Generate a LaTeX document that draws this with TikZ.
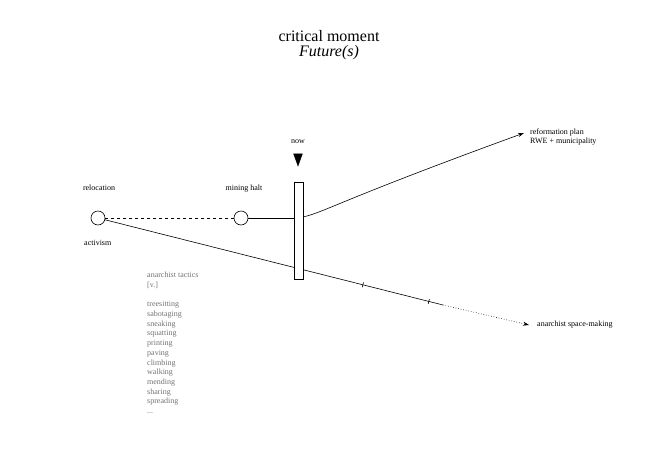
\documentclass[tikz,border=0pt]{standalone}
\usepackage{fontspec}
\setmainfont{Liberation Serif}
\usetikzlibrary{arrows.meta, shapes.geometric}
\tikzset{
  event/.style={circle, draw, semithick, fill=white, minimum size=14pt, inner sep=0pt},
  barbox/.style={draw, semithick, minimum width=9pt, minimum height=97pt, inner sep=0pt},
  lbl/.style={font=\fontsize{8}{9.5}\selectfont, inner sep=1pt},
  tick/.style={draw, semithick, minimum width=0pt, minimum height=5pt, inner sep=0pt, sloped},
  tip/.style={-{Stealth[length=6pt, width=4pt]}}
}
\begin{document}
\begin{tikzpicture}[x=1pt, y=-1pt]
  \useasboundingbox (0,0) rectangle (660,458);

  % Title
  \node (title) at (329,45) [align=center, inner sep=0pt, font=\fontsize{16}{15}\selectfont] {critical moment\\\textit{Future(s)}};

  % Events
  \node (reloc) at (98,218) [event] {};
  \node (halt) at (241,218) [event] {};
  \node (bar) at (298.5,230.5) [barbox] {};
  \node (marker) at (298,157) [draw, fill=black, isosceles triangle, shape border rotate=-90, isosceles triangle apex angle=40, minimum height=12pt, inner sep=0pt] {};

  % Labels
  \node[lbl] at (99,188) {relocation};
  \node[lbl, anchor=west] at (83,243) {activism};
  \node[lbl] at (244,189) {mining halt};
  \node[lbl] at (298,142) {now};
  \node (reform) at (529,137) [lbl, anchor=west, align=left] {reformation plan\\RWE + municipality};
  \node (space) at (536,325) [lbl, anchor=west] {anarchist space-making};

  % Connections
  \coordinate (bend) at (303,217);
  \coordinate (reformtip) at (524,133);
  \coordinate (dotstart) at (443,305);
  \coordinate (spacetip) at (529,325);
  \draw[semithick, dashed] (reloc) -- (halt);
  \draw[semithick] (halt) -- (halt -| bar.west);
  \draw[semithick, tip] (bend) .. controls (325,212) and (340,200) .. (reformtip);
  \draw[semithick] (reloc) -- (dotstart)
    node[tick, pos=0.763] {}
    node[tick, pos=0.958] {};
  \draw[dotted, semithick, tip] (dotstart) -- (spacetip);
  \node at (bar) [barbox, fill=white] {};

  % Tactics
  \node (tactics) at (147,272) [anchor=north west, inner sep=0pt, align=left, text=black!55,
    font=\fontsize{8}{9.7}\selectfont] {anarchist tactics\\{}[v.]\\[9.7pt]treesitting\\sabotaging\\sneaking\\squatting\\printing\\paving\\climbing\\walking\\mending\\sharing\\spreading\\...};
\end{tikzpicture}
\end{document}
